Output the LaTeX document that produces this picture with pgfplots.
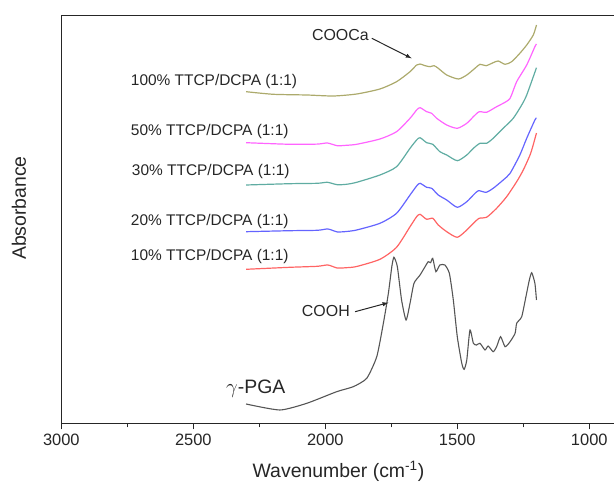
\documentclass[border=0pt]{standalone}
\usepackage{fontspec}
\setmainfont{Liberation Sans}
\usepackage{pgfplots}
\pgfplotsset{compat=1.18}
\definecolor{cOlive}{RGB}{172,170,108}
\definecolor{cMag}{RGB}{255,100,255}
\definecolor{cTeal}{RGB}{95,172,162}
\definecolor{cBlue}{RGB}{100,100,255}
\definecolor{cRed}{RGB}{255,100,100}
\definecolor{cPGA}{RGB}{85,85,85}
\begin{document}
\begin{tikzpicture}
\useasboundingbox (-61.3bp,-64.7bp) rectangle (552.7bp,423.3bp);
\begin{axis}[
  at={(0,0)}, anchor=south west,
  scale only axis, width=562.3bp, height=407.6bp,
  x dir=reverse, xmin=870, xmax=3000, ymin=0, ymax=407.6,
  axis line style={line width=1.3bp, black!85},
  xtick={1000,1500,2000,2500,3000},
  minor xtick={1250,1750,2250,2750},
  xtick pos=bottom, ytick=\empty,
  tick align=outside,
  major tick length=6bp, minor tick length=4bp,
  tick style={line width=1.1bp, black!85},
  /pgf/number format/1000 sep={},
  /pgf/number format/assume math mode=true,
  tick label style={font=\fontsize{16.5}{16.5}\selectfont, text=black!85},
  xticklabel style={yshift=-1bp},
  xlabel={Wavenumber (cm\textsuperscript{-1})},
  xlabel style={font=\fontsize{19.5}{19.5}\selectfont, text=black!85, at={(axis description cs:0.5,0)}, anchor=center, yshift=-48bp, xshift=-4bp},
  ylabel={Absorbance},
  ylabel style={font=\fontsize{19.5}{19.5}\selectfont, text=black!85, at={(axis description cs:-0.0752,0.528)}, anchor=center},
  clip=false,
]
% gamma-PGA
\addplot[cPGA, line width=1.1bp, smooth, tension=0.35] coordinates {
(2300,19.3) (2172,13.3) (2070,20) (1957,31.6) (1894,36.6) (1843,45) (1805,66.6) (1780,100) (1761,130) (1748,156.6) (1740,166) (1727,156.6) (1711,123.3) (1694,103.3) (1679,120) (1664,140) (1641,148.3) (1622,156.6) (1610,161.6) (1601,160.6) (1593,165) (1581,151.6) (1566,158.3) (1547,158.3) (1530,150) (1515,123.3) (1500,86.6) (1483,60) (1474,54) (1464,63.3) (1452,93.3) (1439,80) (1427,78.3) (1414,80) (1395,73.3) (1383,77.3) (1364,71.6) (1351,76.6) (1336,86.6) (1319,76.6) (1300,81.6) (1281,90) (1275,100) (1256,106.6) (1240,126.6) (1227,143.3) (1218,150.6) (1206,140) (1200,123.3)
};
% 10%
\addplot[cRed, line width=1.2bp, smooth, tension=0.4] coordinates {
(2300,154) (2134,156) (2030,157) (1990,158.3) (1955,155.3) (1920,155.6) (1881,156.8) (1793,164) (1730,176) (1679,196.6) (1654,206.6) (1641,209) (1616,204) (1593,205) (1572,198.3) (1540,191.6) (1500,186) (1464,193.3) (1439,200) (1417,205) (1389,206) (1351,215) (1313,226.6) (1275,241.6) (1250,253.3) (1222,270) (1200,290.3)
};
% 20%
\addplot[cBlue, line width=1.2bp, smooth, tension=0.4] coordinates {
(2300,191.6) (2134,192.6) (2030,193) (1990,194.3) (1955,191.4) (1920,191.8) (1881,193.3) (1793,200) (1730,210) (1679,228.3) (1654,237.3) (1641,240) (1616,236) (1597,235) (1572,228.3) (1540,223.3) (1500,216) (1464,221.6) (1439,228.3) (1420,232.6) (1391,231) (1364,235) (1326,243.3) (1300,250) (1263,268.3) (1237,285) (1206,303.3) (1200,305.3)
};
% 30%
\addplot[cTeal, line width=1.2bp, smooth, tension=0.4] coordinates {
(2300,238.3) (2134,239.6) (2030,240) (1992,241) (1955,238.6) (1920,239) (1881,241) (1793,248.3) (1730,256.6) (1679,275) (1654,283.3) (1641,285.6) (1616,280.6) (1593,279) (1566,271.6) (1540,268.3) (1500,262.6) (1464,268.3) (1439,275) (1414,280) (1389,280) (1364,285) (1326,295) (1288,305) (1256,318.3) (1237,328.3) (1200,355.6)
};
% 50%
\addplot[cMag, line width=1.2bp, smooth, tension=0.4] coordinates {
(2300,280.6) (2134,279) (2030,279.2) (1992,280.3) (1955,277.6) (1920,278) (1881,279) (1793,284.3) (1730,291.6) (1679,305) (1654,313.3) (1641,315.6) (1616,311.6) (1597,310) (1578,305) (1540,298.3) (1500,295) (1464,300) (1439,306.6) (1417,311.6) (1389,311) (1351,316.6) (1326,320) (1300,325) (1275,341.6) (1237,358.3) (1206,376.6) (1200,379.3)
};
% 100%
\addplot[cOlive, line width=1.2bp, smooth, tension=0.4] coordinates {
(2300,331.6) (2197,329) (2070,328.3) (1970,327.3) (1881,329.3) (1793,334.3) (1730,341.6) (1679,351.6) (1654,358.3) (1641,359.3) (1622,357.6) (1603,356.6) (1588,357.6) (1572,355) (1540,348.3) (1496,344.3) (1464,348.3) (1433,355) (1414,359) (1391,357.6) (1364,360.6) (1345,362.3) (1319,359) (1294,361.6) (1263,370) (1237,378.3) (1212,388.3) (1200,398.3)
};
\begin{scope}[every node/.style={inner sep=0pt, anchor=west, text=black!85, font=\fontsize{15.5}{15.5}\selectfont}]
\node at (axis cs:2737,341.6) {100\% TTCP/DCPA (1:1)};
\node at (axis cs:2737,291.6) {50\% TTCP/DCPA (1:1)};
\node at (axis cs:2733,251.6) {30\% TTCP/DCPA (1:1)};
\node at (axis cs:2737,201.6) {20\% TTCP/DCPA (1:1)};
\node at (axis cs:2737,166.6) {10\% TTCP/DCPA (1:1)};
\node[font=\fontsize{16}{16}\selectfont] at (axis cs:2051,388.3) {COOCa};
\node[font=\fontsize{16}{16}\selectfont] at (axis cs:2089,112.6) {COOH};
\node[font=\fontsize{19.5}{19.5}\selectfont] at (axis cs:2376,35) {$\gamma$-PGA};
\end{scope}
\draw[-latex, line width=1bp, black!85] (axis cs:1824,385) -- (axis cs:1673,365);
\draw[-latex, line width=1bp, black!85] (axis cs:1887,111.6) -- (axis cs:1761,120.6);
\end{axis}
\end{tikzpicture}
\end{document}
